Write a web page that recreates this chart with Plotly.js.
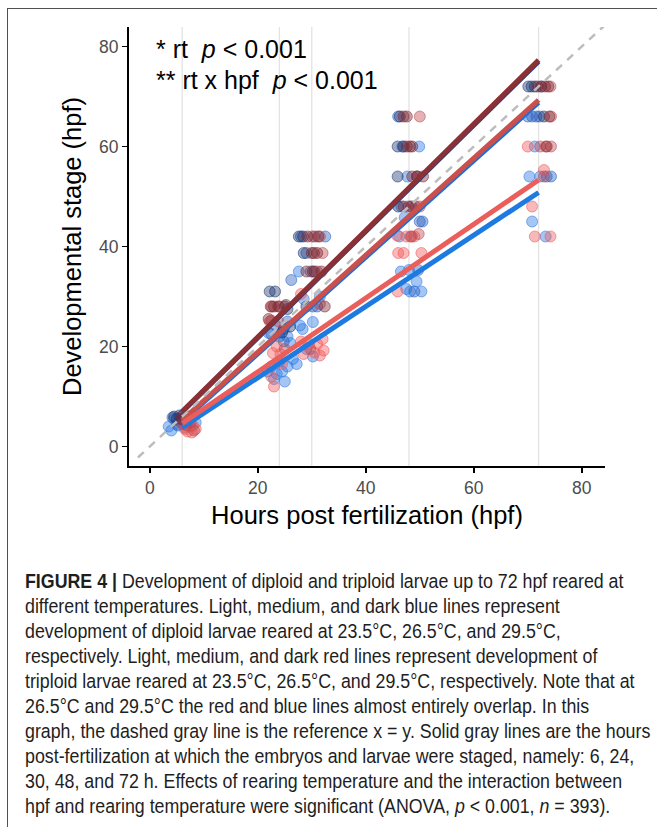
<!DOCTYPE html>
<html>
<head>
<meta charset="utf-8">
<script src="https://cdn.plot.ly/plotly-3.0.1.min.js"></script>
<style>
  html, body { margin: 0; padding: 0; background: #ffffff; width: 657px; height: 827px; overflow: hidden; }
  #frame { position: absolute; left: 7px; top: 8px; width: 700px; height: 900px;
           border: 1.5px solid #505050; box-sizing: border-box; pointer-events: none; }
  #chart { position: absolute; left: 0; top: 0; width: 657px; height: 827px; }
  #caption { position: absolute; left: 25px; top: 568px; color: #1e1e1e;
             font-family: "Liberation Sans", Arial, sans-serif;
             font-size: 20.5px; line-height: 25px; white-space: nowrap;
             transform: scaleX(0.868); transform-origin: 0 0; }
  #caption b { font-weight: bold; }
</style>
</head>
<body>
<div id="chart"></div>
<div id="caption">
  <div><b>FIGURE 4 |</b> Development of diploid and triploid larvae up to 72 hpf reared at</div>
  <div>different temperatures. Light, medium, and dark blue lines represent</div>
  <div>development of diploid larvae reared at 23.5°C, 26.5°C, and 29.5°C,</div>
  <div>respectively. Light, medium, and dark red lines represent development of</div>
  <div>triploid larvae reared at 23.5°C, 26.5°C, and 29.5°C, respectively. Note that at</div>
  <div>26.5°C and 29.5°C the red and blue lines almost entirely overlap. In this</div>
  <div>graph, the dashed gray line is the reference x = y. Solid gray lines are the hours</div>
  <div>post-fertilization at which the embryos and larvae were staged, namely: 6, 24,</div>
  <div>30, 48, and 72 h. Effects of rearing temperature and the interaction between</div>
  <div>hpf and rearing temperature were significant (ANOVA, <i>p</i> &lt; 0.001, <i>n</i> = 393).</div>
</div>
<div id="frame"></div>
<script>
// Sampling times (hpf) at which larvae were staged
const stageHours = [6, 24, 30, 48, 72];

// Group labels: ploidy x rearing temperature
const groupNames = ['Diploid 23.5°C', 'Diploid 26.5°C', 'Diploid 29.5°C',
                    'Triploid 23.5°C', 'Triploid 26.5°C', 'Triploid 29.5°C'];

// Observations (jittered hpf, developmental stage in hpf) per group
const hpfD235 = [4.0, 5.0, 6.5, 7.0, 4.5, 8.5, 3.5,
  22.5, 23.5, 24.5, 25.5, 26.5, 23.0, 25.0, 24.0, 26.0, 22.0, 25.5, 27.2, 21.8,
  27.6, 28.3, 30.2, 30.2, 29.0, 31.5, 28.5, 27.8,
  46.2, 47.7, 49.9, 46.5, 48.0, 49.4, 48.2, 50.3, 46.6, 47.2, 47.5,
  71.3, 70.3, 72.3, 70.8, 73.3];
const stageD235 = [3.2, 4.5, 3.8, 5.0, 5.5, 4.8, 4.0,
  16, 14.5, 15, 16, 17.5, 13.5, 13, 17, 20.7, 22.7, 22, 16.5, 15,
  35, 23.5, 24.9, 18, 19.5, 30, 29.5, 24.2,
  42, 54, 60, 35, 35.3, 33, 31, 31, 48, 45.8, 31.5,
  60, 54, 54, 45, 42];

const hpfD265 = [4.2, 5.5, 6.0, 7.5, 5.2,
  22.5, 24.0, 26.2, 23.5, 25.5, 24.8,
  30.2, 31.0, 28.0, 32.5, 29.8, 29.0,
  46.0, 46.8, 49.7, 50.0, 49.0, 48.5, 50.5, 49.5,
  70.0, 70.8, 71.6, 72.2, 73.5, 74.3, 72.5];
const stageD265 = [5.8, 5.0, 6.0, 4.0, 4.2,
  22.5, 22, 33.3, 24, 25, 21,
  28, 28, 42, 42, 35, 38.7,
  66, 60, 35.3, 45, 31, 48, 45, 54,
  66, 66, 66, 66, 54, 54, 72];

const hpfD295 = [4.5, 5.5, 5.0, 6.5,
  22.2, 23.2, 25.0, 26.0, 25.5, 24.8, 24.5,
  27.6, 28.4, 30.5, 28.5, 30.5, 29.0,
  45.9, 45.9, 46.0, 47.0, 46.3,
  70.1, 70.7, 71.3, 73.0];
const stageD295 = [6.0, 6.2, 5.5, 5.8,
  31, 31, 28, 24, 27.5, 23.5, 22.8,
  42, 42, 42, 38.7, 35, 28,
  60, 54, 48, 60, 66,
  72, 72, 72, 66];

const hpfT235 = [7.0, 7.8, 8.5, 6.5, 8.0,
  22.8, 24.2, 23.0, 22.2, 24.5, 23.5, 22.5,
  28.0, 28.0, 29.5, 31.0, 32.2, 30.5, 32.0, 28.5, 31.5,
  46.0, 47.0, 50.3, 45.9, 47.5, 49.0, 45.8,
  70.0, 70.8, 71.3, 74.2, 73.0, 73.3];
const stageT235 = [3.0, 2.8, 3.5, 3.5, 4.2,
  18.7, 18.5, 12, 25, 16.5, 20, 14,
  30.5, 21, 20.5, 20.5, 19.2, 18.8, 21.5, 18.5, 18.2,
  38.7, 38.7, 38.7, 31, 42, 42, 42.2,
  60, 48, 42, 42, 55.3, 60];

const hpfT265 = [6.8, 7.5, 6.0, 8.2,
  22.5, 23.8, 24.0, 22.6, 25.0,
  29.7, 30.0, 32.0, 31.0, 31.5, 31.5,
  48.3, 49.8, 48.4, 50.0, 50.0, 49.5, 48.5,
  72.3, 74.3, 74.2, 74.3, 73.0];
const stageT265 = [4.2, 4.8, 4.5, 3.2,
  25.2, 25, 28, 28, 19.5,
  19.5, 42, 38.7, 35, 28.5, 42,
  42, 42.5, 48, 48, 66, 54, 42,
  60, 60, 72, 66, 54];

const hpfT295 = [5.8, 6.8, 7.2, 6.2,
  22.4, 23.8, 22.0, 25.2, 23.0,
  29.2, 31.2, 30.0, 31.0, 29.0, 30.2, 32.4, 31.8, 30.4,
  47.0, 47.6, 47.6, 48.6, 48.2, 48.6, 49.5, 50.6, 47.0, 47.9, 49.2,
  72.5, 73.2, 73.8, 71.8, 73.5, 74.0];
const stageT295 = [5.5, 5.2, 6.0, 6.3,
  28, 28, 25.5, 28.3, 28,
  42, 42, 38.7, 38.7, 35, 35, 28, 35, 38.7,
  66, 66, 60, 60, 60, 54, 54, 54, 48, 48, 48,
  72, 72, 72, 72, 60, 66];

// Fitted stage at the first and last sampling time, per group (same order as groupNames)
const fitAt6  = [3.8, 5.0, 6.9, 4.6, 5.3, 7.0];
const fitAt72 = [50.8, 68.8, 77.0, 53.3, 69.3, 77.3];

const hpfByGroup   = [hpfD235, hpfD265, hpfD295, hpfT235, hpfT265, hpfT295];
const stageByGroup = [stageD235, stageD265, stageD295, stageT235, stageT265, stageT295];

// Styling
const pointRGB = ['40,120,228', '40,95,190', '30,55,112', '240,88,88', '190,72,78', '125,40,50'];
const lineColor = ['#1c7ae0', '#1d6fd6', '#2b3f78', '#ea5f5b', '#c9504d', '#8b3035'];

const traces = [];

// Raw observations
groupNames.forEach((name, i) => {
  traces.push({
    type: 'scatter', mode: 'markers', name: name,
    x: hpfByGroup[i], y: stageByGroup[i],
    marker: {
      size: 11,
      color: 'rgba(' + pointRGB[i] + ',0.42)',
      line: { color: 'rgba(' + pointRGB[i] + ',0.55)', width: 1 }
    },
    hoverinfo: 'skip', showlegend: false
  });
});

// Regression lines: blue (diploid) first, red (triploid) on top
const lineOrder = [2, 1, 0, 5, 4, 3];
lineOrder.forEach(i => {
  traces.push({
    type: 'scatter', mode: 'lines', name: groupNames[i] + ' fit',
    x: [stageHours[0], stageHours[stageHours.length - 1]],
    y: [fitAt6[i], fitAt72[i]],
    line: { color: lineColor[i], width: 5 },
    hoverinfo: 'skip', showlegend: false
  });
});

// Reference x = y
const refLine = [-2.2, 95];
traces.push({
  type: 'scatter', mode: 'lines', x: refLine, y: refLine,
  line: { color: '#bdbdbd', width: 2.5, dash: '8px,7px' },
  hoverinfo: 'skip', showlegend: false
});

const shapes = stageHours.map(h => ({
  type: 'line', xref: 'x', yref: 'paper', x0: h, x1: h, y0: 0, y1: 1,
  line: { color: '#e3e3e3', width: 1.3 }, layer: 'below'
}));

const axisFont = { family: 'Liberation Sans, Arial, sans-serif', size: 17.5, color: '#4d4d4d' };
const titleFont = { family: 'Liberation Sans, Arial, sans-serif', size: 25.5, color: '#000000' };
const noteFont = { family: 'Liberation Sans, Arial, sans-serif', size: 25, color: '#000000' };

const layout = {
  width: 657, height: 827,
  margin: { l: 129, r: 52, t: 27, b: 361 },
  paper_bgcolor: 'rgba(0,0,0,0)', plot_bgcolor: '#ffffff',
  showlegend: false,
  xaxis: {
    range: [-3.85, 84.3], tickvals: [0, 20, 40, 60, 80],
    showgrid: false, zeroline: false,
    showline: true, linecolor: '#000000', linewidth: 2,
    ticks: 'outside', ticklen: 5, tickwidth: 1.5, tickcolor: '#000000',
    tickfont: axisFont,
    title: { text: 'Hours post fertilization (hpf)', font: titleFont, standoff: 9 }
  },
  yaxis: {
    range: [-3.9, 83.9], tickvals: [0, 20, 40, 60, 80],
    showgrid: false, zeroline: false,
    showline: true, linecolor: '#000000', linewidth: 2,
    ticks: 'outside', ticklen: 5, tickwidth: 1.5, tickcolor: '#000000',
    tickfont: axisFont,
    title: { text: 'Developmental stage (hpf)', font: titleFont, standoff: 10 }
  },
  shapes: shapes,
  annotations: [
    { xref: 'paper', yref: 'paper', x: 0.053, y: 0.951, xanchor: 'left', yanchor: 'middle',
      text: '*\u00a0rt\u00a0\u00a0<i>p</i>\u00a0<\u00a00.001', showarrow: false, font: noteFont },
    { xref: 'paper', yref: 'paper', x: 0.053, y: 0.879, xanchor: 'left', yanchor: 'middle',
      text: '**\u00a0rt\u00a0x\u00a0hpf\u00a0\u00a0<i>p</i>\u00a0<\u00a00.001', showarrow: false, font: noteFont }
  ]
};

Plotly.newPlot('chart', traces, layout, { staticPlot: true, displayModeBar: false });
</script>
</body>
</html>
